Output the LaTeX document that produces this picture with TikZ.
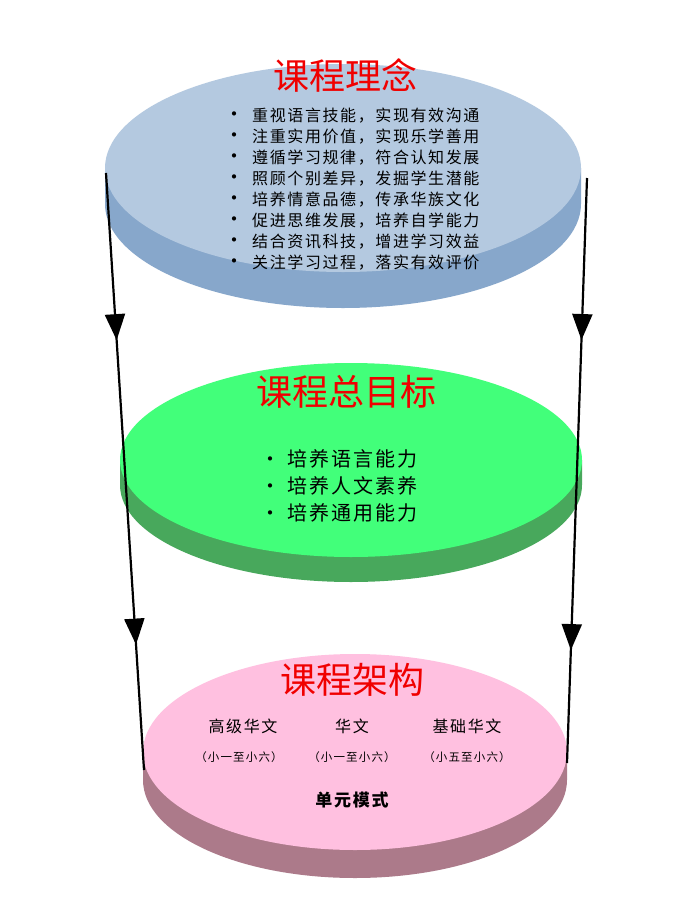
\documentclass[tikz,border=0pt]{standalone}
\usepackage{fontspec}
\newfontfamily\cjk{Noto Sans CJK SC}
\newfontfamily\cjksp{Noto Sans CJK SC}[LetterSpace=10]
\usetikzlibrary{shapes.geometric,arrows.meta,decorations.markings}
\definecolor{bluetop}{RGB}{180,201,224}
\definecolor{blueside}{RGB}{135,167,203}
\definecolor{greentop}{RGB}{66,255,122}
\definecolor{greenside}{RGB}{72,168,92}
\definecolor{pinktop}{RGB}{255,192,224}
\definecolor{pinkside}{RGB}{172,122,138}
\definecolor{titlered}{RGB}{240,0,0}
\newcommand{\bul}{{\fontsize{20}{20}\selectfont •}}
\begin{document}
\begin{tikzpicture}[x=1pt,y=1pt,
  disk/.style={ellipse, inner sep=0pt, draw=none},
  ttl/.style={font=\cjk\fontsize{36}{40}\selectfont, text=titlered, inner sep=0pt},
  body/.style={font={\cjksp\fontsize{#1}{#1}\selectfont}, align=left, inner sep=0pt, text=black},
  body/.default=17,
  conn/.style={line width=2.2pt, black},
  midtips/.style 2 args={postaction={decorate}, decoration={markings,
     mark=at position #1 with {\arrow{Triangle[length=26pt,width=20pt]}},
     mark=at position #2 with {\arrow{Triangle[length=26pt,width=20pt]}}}}]
\useasboundingbox (0,0) rectangle (677,-913);
\fill[white] (0,0) rectangle (677,-913);

% ---- blue disk (course philosophy)
\fill[blueside] (105,-168) -- (105,-204) arc[start angle=180,end angle=360,x radius=238pt,y radius=104pt] -- (581,-168) -- cycle;
\node[disk, fill=bluetop, minimum width=476pt, minimum height=208pt] (blue) at (343,-168) {};
\node[ttl] (t1) at (345,-75) {课程理念};
\node[body=16, anchor=west, font={\cjksp\fontsize{16}{21}\selectfont}] (l1) at (224,-189)
  {\bul\hspace{8pt}重视语言技能，实现有效沟通\\
   \bul\hspace{8pt}注重实用价值，实现乐学善用\\
   \bul\hspace{8pt}遵循学习规律，符合认知发展\\
   \bul\hspace{8pt}照顾个别差异，发掘学生潜能\\
   \bul\hspace{8pt}培养情意品德，传承华族文化\\
   \bul\hspace{8pt}促进思维发展，培养自学能力\\
   \bul\hspace{8pt}结合资讯科技，增进学习效益\\
   \bul\hspace{8pt}关注学习过程，落实有效评价};

% ---- green disk (overall goals)
\fill[greenside] (120,-460) -- (120,-485) arc[start angle=180,end angle=360,x radius=231pt,y radius=97pt] -- (582,-460) -- cycle;
\node[disk, fill=greentop, minimum width=462pt, minimum height=194pt] (green) at (351,-460) {};
\node[ttl] (t2) at (346,-392) {课程总目标};
\node[body, anchor=west, font={\cjksp\fontsize{20}{27}\selectfont}] (l2) at (260,-486)
  {\bul\hspace{7pt}培养语言能力\\
   \bul\hspace{7pt}培养人文素养\\
   \bul\hspace{7pt}培养通用能力};

% ---- pink disk (structure)
\fill[pinkside] (143,-752) -- (143,-780) arc[start angle=180,end angle=360,x radius=212pt,y radius=98pt] -- (567,-752) -- cycle;
\node[disk, fill=pinktop, minimum width=424pt, minimum height=196pt] (pink) at (355,-752) {};
\node[ttl] (t3) at (352,-680) {课程架构};
\node[body=16] (c1) at (243,-726) {高级华文};
\node[body=16] (c2) at (352,-726) {华文};
\node[body=16] (c3) at (467,-726) {基础华文};
\node[body=11.5] (s1) at (239,-757) {（小一至小六）};
\node[body=11.5] (s2) at (352,-757) {（小一至小六）};
\node[body=11.5] (s3) at (467,-757) {（小五至小六）};
\node[body=17] (m) at (352,-800) {\bfseries 单元模式};

% ---- connectors
\coordinate (bl) at (106,-173);
\coordinate (pl) at (144,-770);
\coordinate (br) at (587,-178);
\coordinate (pr) at (567,-763);
\draw[conn, midtips={0.28}{0.79}] (bl) -- (pl);
\draw[conn, midtips={0.277}{0.807}] (br) -- (pr);
\end{tikzpicture}
\end{document}
